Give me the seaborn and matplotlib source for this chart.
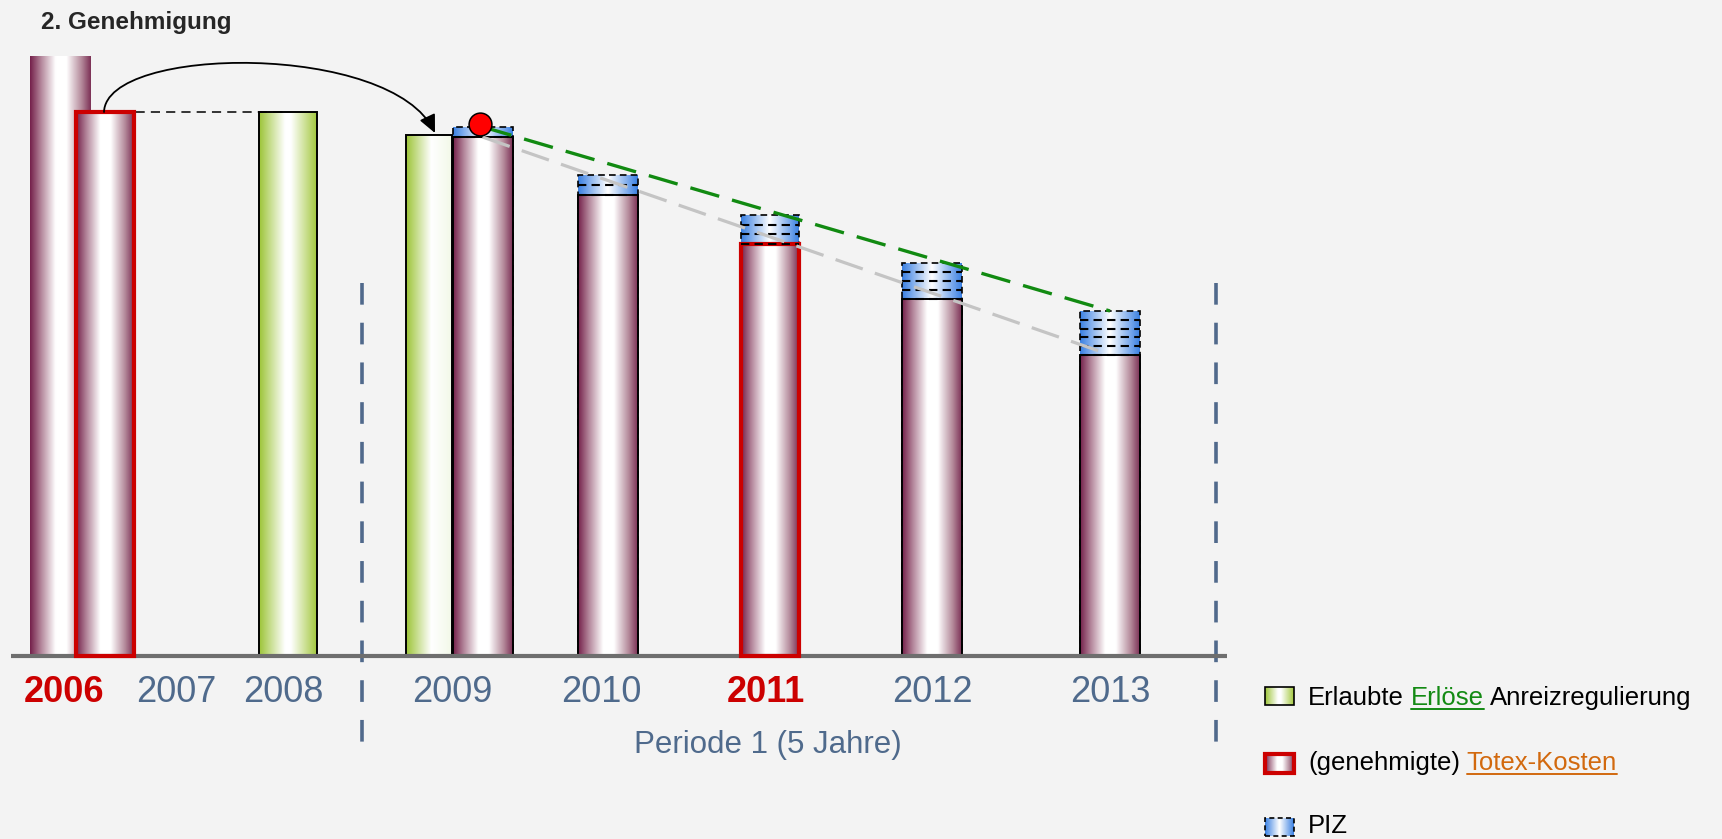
import numpy as np
import matplotlib
matplotlib.use('Agg')
import matplotlib.pyplot as plt
import seaborn as sns
from matplotlib.colors import LinearSegmentedColormap
from matplotlib.patches import FancyArrowPatch, Rectangle
from matplotlib.path import Path
from matplotlib.font_manager import FontProperties

sns.set_theme(style='white')
plt.rcParams['font.family'] = ['Liberation Sans', 'DejaVu Sans']

# ---- Daten ----
years = ['2006', '2007', '2008', '2009', '2010', '2011', '2012', '2013']
red_years = ['2006', '2011']
kosten_2006 = 100.0                 # Ist-Kosten Basisjahr
totex_2006 = 90.7                   # genehmigte Totex-Kosten
erloese_years = ['2008', '2009']
erloese = [90.7, 86.8]              # erlaubte Erlöse
period_years = ['2009', '2010', '2011', '2012', '2013']
totex = [86.5, 76.8, 68.7, 59.5, 50.2]
piz = [1.7, 3.4, 4.8, 6.0, 7.3]
piz_steps = [1, 2, 3, 4, 5]

# ---- Layout (Pixel) ----
W, H = 1722, 839
BASE = 656
PX = 6.0
BG = '#F3F3F3'
SLATE = '#4F6A8C'
RED = '#CC0000'

label_x = {'2006': 64, '2007': 176, '2008': 283, '2009': 452, '2010': 601,
           '2011': 766, '2012': 932, '2013': 1110}
erl_x = {'2008': (287.5, 58), '2009': (429, 46)}
period_x = {'2009': (482.5, 60), '2010': (608, 60), '2011': (769.5, 58),
            '2012': (932, 60), '2013': (1110, 60)}

cm_maroon = LinearSegmentedColormap.from_list('m', [(0, '#74204A'), (0.18, '#B3859A'), (0.42, '#FFFFFF'),
                                                    (0.6, '#FFFFFF'), (0.85, '#B38899'), (1, '#7C3055')])
cm_green = LinearSegmentedColormap.from_list('g', [(0, '#9CC437'), (0.45, '#FFFFFF'), (0.55, '#FFFFFF'), (1, '#A3C83E')])
cm_green_fade = LinearSegmentedColormap.from_list('gf', [(0, '#9CC437'), (0.55, '#FFFFFF'), (1, '#F2F8E8')])
cm_blue = LinearSegmentedColormap.from_list('b', [(0, '#3A80E2'), (0.5, '#FFFFFF'), (1, '#3A80E2')])
erl_cmap = {'2008': cm_green, '2009': cm_green_fade}


def vy(py):
    return (BASE - py) / PX


def fxy(px, py):
    return px / W, 1 - py / H


fig = plt.figure(figsize=(W / 100, H / 100), dpi=100, facecolor=BG)
ax = fig.add_axes([0, 0, 1, 1])
ax.set_facecolor(BG)
ax.axis('off')


def shade(patch, cmap, z):
    x0, y0, x1, y1 = patch.get_bbox().extents
    grad = np.linspace(0, 1, 256).reshape(1, -1)
    im = ax.imshow(grad, cmap=cmap, extent=[x0, x1, y0, y1], aspect='auto',
                   interpolation='bilinear', zorder=z - 0.5)
    im.set_clip_path(patch)


def bar(x, val, w, cmap, edge, lw, z, ls='-'):
    n = len(ax.patches)
    sns.barplot(x=[x], y=[val], native_scale=True, width=w, errorbar=None, orient='x',
                ax=ax, color='white', edgecolor=edge, linewidth=lw, linestyle=ls, zorder=z)
    p = ax.patches[n]
    p.set_facecolor('none')
    shade(p, cmap, z)
    return p


# 2006
bar(60.5, kosten_2006, 61, cm_maroon, 'none', 0, 3)
bar(104.5, totex_2006, 58, cm_maroon, RED, 3, 4)

# Erlöse
for yr, v in zip(erloese_years, erloese):
    cx, w = erl_x[yr]
    bar(cx, v, w, erl_cmap[yr], 'black', 1.4, 3)

# Periode 1: Totex + PIZ
for yr, t, p, n in zip(period_years, totex, piz, piz_steps):
    cx, w = period_x[yr]
    bar(cx, t + p, w, cm_blue, 'black', 1.2, 2, ls=(0, (4, 2.5)))
    if yr in red_years:
        bar(cx, t, w, cm_maroon, RED, 3, 4)
    else:
        bar(cx, t, w, cm_maroon, 'black', 1.4, 3)
    for k in range(n):
        yy = t + k * p / n
        ax.plot([cx - w / 2, cx + w / 2], [yy, yy], color='black', lw=1.5,
                ls=(0, (4, 2.5)), zorder=4.5)

# Grundlinie
ax.plot([11, 1227], [0, 0], color='#6E6E6E', lw=3, zorder=3.6, solid_capstyle='butt')

# gestrichelte Verbindung 2006 -> 2008
ax.plot([104.5, 287.5], [totex_2006, erloese[0]], color='black', lw=1.1,
        ls=(0, (6, 4)), zorder=3.8)

# Trendlinien (von 2009 bis 2013)
x_first = period_x[period_years[0]][0]
x_last = period_x[period_years[-1]][0]
sns.lineplot(x=[x_first, x_last], y=[totex[0], totex[-1]], ax=ax, color='#C4C4C4',
             lw=2.3, linestyle=(0, (9, 4)), zorder=5)
sns.lineplot(x=[x_first, x_last], y=[totex[0] + piz[0], totex[-1] + piz[-1]], ax=ax,
             color='#118A11', lw=2.4, linestyle=(0, (9, 4)), zorder=5.2)
sns.scatterplot(x=[x_first - 3], y=[totex[0] + piz[0] + 0.4], ax=ax, s=270, color='#FF0000',
                edgecolor='black', linewidth=1.1, zorder=6)

# Bogenpfeil
verts = [(104, vy(112)), (106, vy(45)), (392, vy(42)), (435, vy(133))]
arc = FancyArrowPatch(path=Path(verts, [Path.MOVETO, Path.CURVE4, Path.CURVE4, Path.CURVE4]),
                      arrowstyle='-|>,head_length=0.6,head_width=0.28', mutation_scale=18,
                      color='black', lw=1.3, zorder=6)
ax.add_patch(arc)

# Periodengrenzen
for xv in [362, 1216]:
    ax.plot([xv, xv], [vy(283), vy(749)], color='#50698B', lw=2.6, ls=(0, (6, 5)), zorder=2)

# Beschriftungen
fig.text(*fxy(41, 22), '2. Genehmigung', fontsize=17.5, fontweight='bold', va='center', ha='left')
for yr in years:
    red = yr in red_years
    fig.text(*fxy(label_x[yr], 693), yr, fontsize=26, ha='center', va='center',
             color=RED if red else SLATE, fontweight='bold' if red else 'normal')
fig.text(*fxy(768, 745), 'Periode 1 (5 Jahre)', fontsize=22.5, ha='center', va='center', color=SLATE)

# Legende
leg_boxes = [(687, 705, cm_green, 'black', 1.2, '-'),
             (754, 773, cm_maroon, RED, 3, '-'),
             (818, 836, cm_blue, 'black', 1.2, (0, (3, 2)))]
for y0, y1, cmap, ec, lw, ls in leg_boxes:
    r = Rectangle((1265, vy(y1)), 29, vy(y0) - vy(y1), facecolor='none', edgecolor=ec,
                  lw=lw, ls=ls, zorder=7)
    ax.add_patch(r)
    shade(r, cmap, 7)

renderer = fig.canvas.get_renderer()
LEG_FS = 18.5
fp = FontProperties(family=['Liberation Sans'], size=LEG_FS)


def tw(s):
    return renderer.get_text_width_height_descent(s, fp, ismath=False)[0]


legend_rows = [
    (705, [('Erlaubte ', 'black', False), ('Erlöse', '#138A13', True),
           (' Anreizregulierung', 'black', False)]),
    (770, [('(genehmigte) ', 'black', False), ('Totex-Kosten', '#D2690E', True)]),
    (833, [('PIZ', 'black', False)]),
]
for base_y, parts in legend_rows:
    prefix = ''
    for s, col, ul in parts:
        piece = s.strip()
        x0 = 1308 + tw(prefix + s.rstrip()) - tw(piece)
        fig.text(*fxy(x0, base_y), piece, fontsize=LEG_FS, color=col, ha='left', va='baseline')
        if ul:
            ax.plot([x0, x0 + tw(piece)], [vy(base_y + 4), vy(base_y + 4)], color=col, lw=1.4, zorder=7)
        prefix += s

ax.set_xlim(0, W)
ax.set_ylim(vy(H), vy(0))
fig.savefig('out.png', dpi=100, facecolor=BG)
